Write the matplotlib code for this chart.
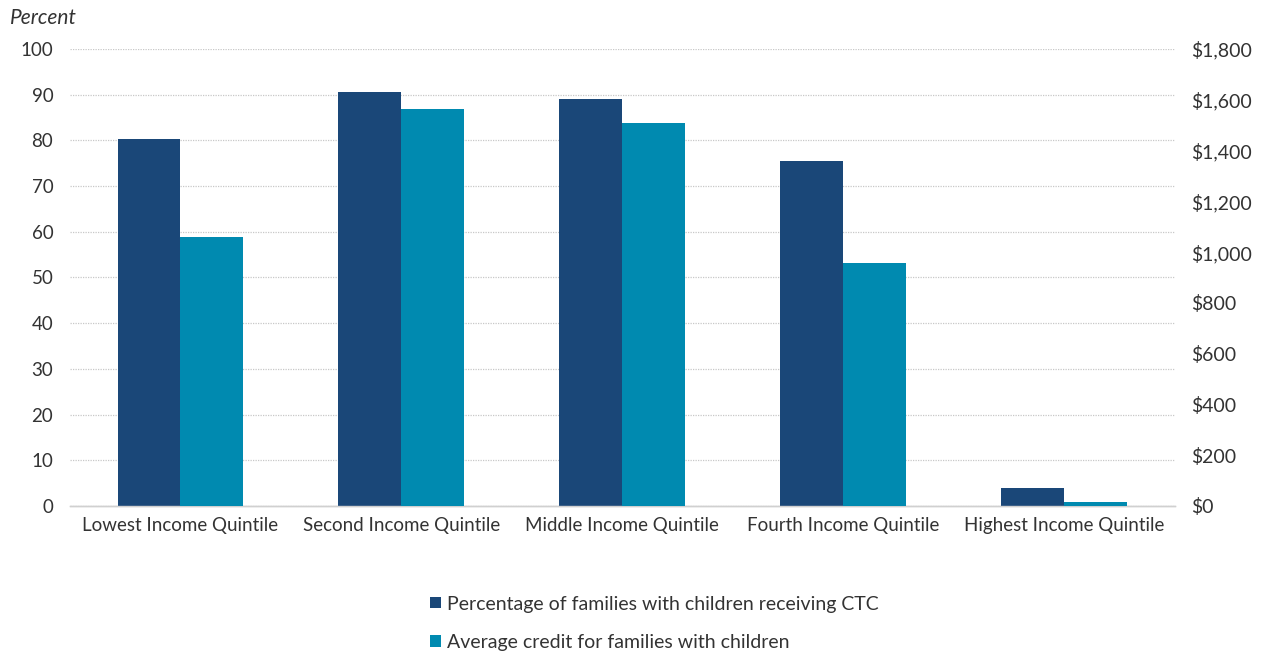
import numpy as np
import matplotlib.pyplot as plt
from matplotlib.ticker import FuncFormatter

plt.rcParams['font.family'] = ['Lato', 'DejaVu Sans']

quintiles = ["Lowest Income Quintile", "Second Income Quintile", "Middle Income Quintile",
             "Fourth Income Quintile", "Highest Income Quintile"]
pct_receiving = [80.2, 90.6, 89.1, 75.5, 3.9]
avg_credit = [1061, 1564, 1507, 957, 16]

dark = "#1A4778"
light = "#008AB0"

fig = plt.figure(figsize=(12.66, 6.56), dpi=100)
ax = fig.add_axes([0.0553, 0.2287, 0.8727, 0.6966])
ax2 = ax.twinx()

x = np.arange(len(quintiles))
w = 0.285
b1 = ax.bar(x - w / 2, pct_receiving, w, color=dark, zorder=3,
            label="Percentage of families with children receiving CTC")
b2 = ax2.bar(x + w / 2, avg_credit, w, color=light, zorder=3,
             label="Average credit for families with children")

ax.set_xlim(-0.5, 4.5)
ax.set_ylim(0, 100)
ax2.set_ylim(0, 1800)
ax.set_yticks(range(0, 101, 10))
ax2.set_yticks(range(0, 1801, 200))
ax2.yaxis.set_major_formatter(FuncFormatter(lambda v, p: "${:,.0f}".format(v)))

ax.set_xticks(x)
ax.set_xticklabels(quintiles, fontsize=13.5, color="#333333")
ax.tick_params(axis='x', length=0, pad=8)
ax.tick_params(axis='y', length=0, labelsize=13.5, labelcolor="#333333", pad=12)
ax2.tick_params(axis='y', length=0, labelsize=14, labelcolor="#333333", pad=12)

ax.grid(axis='y', linestyle=(0, (1, 1)), color="#c8c8c8", linewidth=0.9, zorder=0)
ax.set_axisbelow(True)
for a in (ax, ax2):
    for s in ('top', 'left', 'right'):
        a.spines[s].set_visible(False)
    a.spines['bottom'].set_color("#d0d0d0")
    a.spines['bottom'].set_linewidth(1.0)

fig.text(0.008, 0.972, "Percent", fontsize=15, style='italic', color="#333333", va='center')

fig.legend(handles=[b1, b2], loc='center', bbox_to_anchor=(0.517, 0.05), ncol=1,
           frameon=False, fontsize=14, handlelength=0.55, handleheight=0.55,
           handletextpad=0.3, labelspacing=1.1, labelcolor="#333333")

fig.savefig("out.png", dpi=100)
